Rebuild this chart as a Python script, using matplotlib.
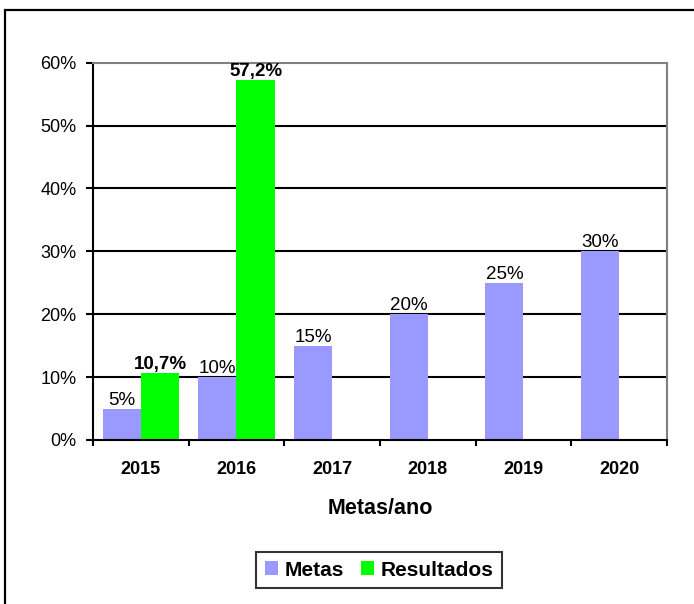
import matplotlib
matplotlib.use("Agg")
import matplotlib.pyplot as plt
import numpy as np
from matplotlib.patches import Rectangle

anos = ["2015", "2016", "2017", "2018", "2019", "2020"]
metas = [5, 10, 15, 20, 25, 30]
resultados = [10.7, 57.2, None, None, None, None]
metas_labels = ["5%", "10%", "15%", "20%", "25%", "30%"]
resultados_labels = ["10,7%", "57,2%"]

plt.rcParams['font.family'] = ['Liberation Sans', 'DejaVu Sans']

fig = plt.figure(figsize=(6.94, 6.04), dpi=100)
ax = fig.add_axes([93 / 694, 1 - 440 / 604, (667 - 93) / 694, (440 - 62.7) / 604])

x = np.arange(len(anos))
w = 0.4
cor_metas = "#9999FF"
cor_result = "#00FF00"

ax.bar(x - w / 2, metas, width=w, color=cor_metas, zorder=2, label="Metas")
res_x = [x[i] + w / 2 for i, v in enumerate(resultados) if v is not None]
res_v = [v for v in resultados if v is not None]
ax.bar(res_x, res_v, width=w, color=cor_result, zorder=2, label="Resultados")

# rotulos de dados
for xi, v, lab in zip(x - w / 2, metas, metas_labels):
    ax.annotate(lab, (xi, v), xytext=(0, 0), textcoords="offset points",
                ha="center", va="bottom", fontsize=13.5, zorder=4)
for xi, v, lab in zip(res_x, res_v, resultados_labels):
    ax.annotate(lab, (xi, v), xytext=(0, 0), textcoords="offset points",
                ha="center", va="bottom", fontsize=13.5, fontweight="bold", zorder=4)

ax.set_xlim(-0.5, len(anos) - 0.5)
ax.set_ylim(0, 60)
ax.set_yticks(range(0, 61, 10))
ax.set_yticklabels([f"{t}%" for t in range(0, 61, 10)], fontsize=13)
ax.set_xticks(np.arange(len(anos) + 1) - 0.5, minor=False)
ax.set_xticklabels([])
ax.set_xticks(x, minor=True)
ax.set_xticklabels(anos, minor=True, fontsize=13, fontweight="bold")
ax.tick_params(axis="x", which="major", length=4, width=1.5, direction="out")
ax.tick_params(axis="x", which="minor", length=0, pad=15)
ax.tick_params(axis="y", length=5, width=1.5, pad=7)

for yv in range(10, 60, 10):
    ax.axhline(yv, color="black", lw=1.5, zorder=1)

ax.spines["left"].set_linewidth(1.5)
ax.spines["bottom"].set_linewidth(1.5)
ax.spines["top"].set_color("#808080")
ax.spines["right"].set_color("#808080")
ax.spines["top"].set_linewidth(1.5)
ax.spines["right"].set_linewidth(1.5)

fig.text(380 / 694, 1 - 508 / 604, "Metas/ano", ha="center", va="center",
         fontsize=15.5, fontweight="bold")

leg = fig.legend(loc="center", bbox_to_anchor=(379 / 694, 1 - 570 / 604), ncol=2,
                 prop={"weight": "bold", "size": 15}, frameon=True, fancybox=False,
                 handlelength=0.65, handleheight=0.65, handletextpad=0.3,
                 columnspacing=0.8, borderpad=0.4, edgecolor="black")
leg.get_frame().set_linewidth(1.5)

fig.patches.append(Rectangle((5 / 694, -0.1), 1.2, 1.1 - 10.5 / 604, transform=fig.transFigure,
                             fill=False, edgecolor="black", lw=1.6))

fig.savefig("out.png", dpi=100)
